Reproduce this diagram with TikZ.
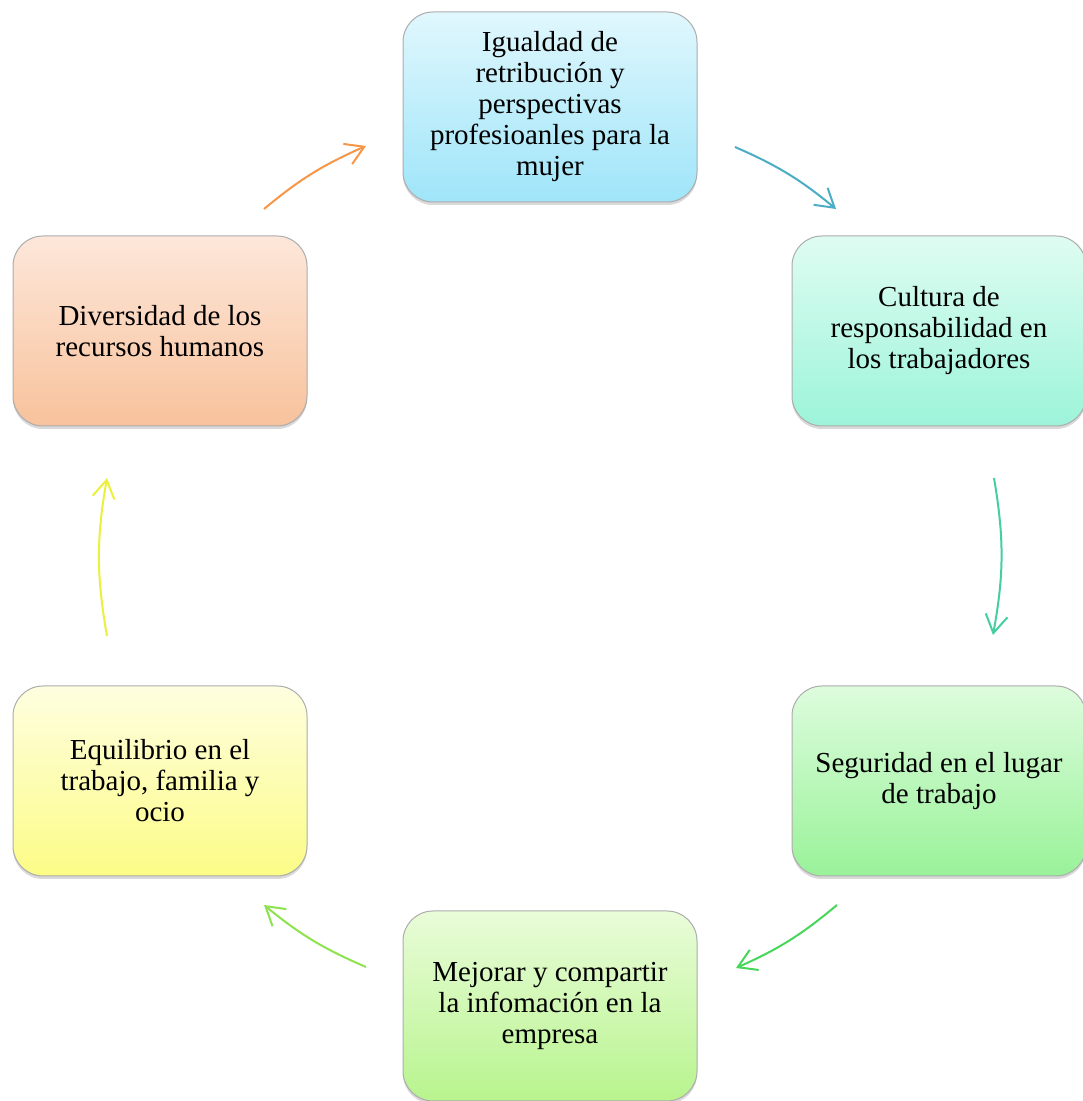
\documentclass[tikz,border=0pt]{standalone}
\usepackage{fontspec}
\setmainfont{Liberation Serif}
\usetikzlibrary{arrows.meta,shadows}
\definecolor{blueTop}{HTML}{E0F7FD}
\definecolor{blueBot}{HTML}{9FE5F9}
\definecolor{aquaTop}{HTML}{DFFCF2}
\definecolor{aquaBot}{HTML}{9CF4D9}
\definecolor{greenTop}{HTML}{DDFCDD}
\definecolor{greenBot}{HTML}{99F299}
\definecolor{limeTop}{HTML}{E9FCD9}
\definecolor{limeBot}{HTML}{B8F48E}
\definecolor{yellowTop}{HTML}{FEFEE0}
\definecolor{yellowBot}{HTML}{FCFC86}
\definecolor{orangeTop}{HTML}{FDE7DA}
\definecolor{orangeBot}{HTML}{F8C29C}
\definecolor{arrowA}{HTML}{4BACC6}
\definecolor{arrowB}{HTML}{45CF9E}
\definecolor{arrowC}{HTML}{48D65A}
\definecolor{arrowD}{HTML}{8EE24E}
\definecolor{arrowE}{HTML}{EAF03C}
\definecolor{arrowF}{HTML}{F79646}
\begin{document}
\begin{tikzpicture}[x=1pt,y=1pt]
	\tikzstyle{round box}=[draw=gray!65,line width=1pt,rounded corners=30pt,
		minimum width=294pt,minimum height=190pt,align=center,
		font=\fontsize{29}{31}\selectfont,
		drop shadow={opacity=0.3,shadow xshift=0pt,shadow yshift=-3pt}]
	\tikzstyle{cycle arrow}=[line width=2pt,-{Straight Barb[length=18pt,width=22pt]}]
	\useasboundingbox (0,0) rectangle (1083,1101);
	% boxes
	\node(igualdad)[round box,top color=blueTop,bottom color=blueBot] at (550,994)
		{Igualdad de\\retribución y\\perspectivas\\profesioanles para la\\mujer};
	\node(cultura)[round box,top color=aquaTop,bottom color=aquaBot] at (939,770)
		{Cultura de\\responsabilidad en\\los trabajadores};
	\node(seguridad)[round box,top color=greenTop,bottom color=greenBot] at (939,320)
		{Seguridad en el lugar\\de trabajo};
	\node(mejorar)[round box,top color=limeTop,bottom color=limeBot] at (550,95)
		{Mejorar y compartir\\la infomación en la\\empresa};
	\node(equilibrio)[round box,top color=yellowTop,bottom color=yellowBot] at (160,320)
		{Equilibrio en el\\trabajo, familia y\\ocio};
	\node(diversidad)[round box,top color=orangeTop,bottom color=orangeBot] at (160,770)
		{Diversidad de los\\recursos humanos};
	% arrow ends
	\coordinate(a1) at (735,954); \coordinate(b1) at (836,892);
	\coordinate(a2) at (994,623); \coordinate(b2) at (993,466);
	\coordinate(a3) at (837,196); \coordinate(b3) at (736,133);
	\coordinate(a4) at (366,134); \coordinate(b4) at (264,196);
	\coordinate(a5) at (107,465); \coordinate(b5) at (107,623);
	\coordinate(a6) at (264,892); \coordinate(b6) at (366,955);
	\draw[cycle arrow,arrowA](a1)to[bend left=8](b1);
	\draw[cycle arrow,arrowB](a2)to[bend left=10](b2);
	\draw[cycle arrow,arrowC](a3)to[bend left=8](b3);
	\draw[cycle arrow,arrowD](a4)to[bend left=8](b4);
	\draw[cycle arrow,arrowE](a5)to[bend left=10](b5);
	\draw[cycle arrow,arrowF](a6)to[bend left=8](b6);
\end{tikzpicture}
\end{document}
